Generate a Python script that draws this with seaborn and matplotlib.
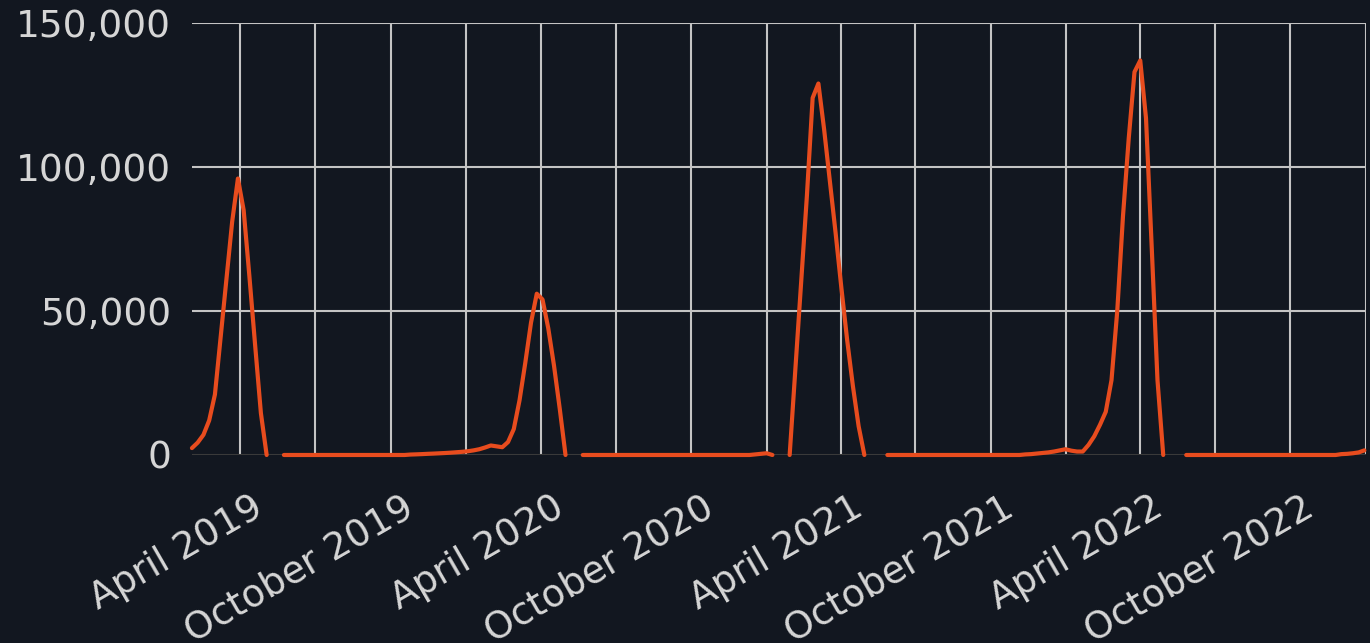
import numpy as np
import pandas as pd
import matplotlib
matplotlib.use("Agg")
import matplotlib.pyplot as plt
import matplotlib.dates as mdates
from matplotlib.ticker import FuncFormatter
from matplotlib.transforms import ScaledTranslation
import seaborn as sns

nan = np.nan

# weekly counts (one value per Friday)
counts_2019 = [2400, 4300, 7000, 12000, 21000, 41000, 61000, 81000, 96000, 85000,
               62000, 38000, 14500, 0, nan, nan, 0,
               0, 0, 0, 0, 0, 0, 0, 0, 0, 0, 0, 0, 0, 0, 0, 0, 0, 0, 0, 0, 0,
               150, 220, 300, 400, 480, 580, 680, 800, 950, 1100]
counts_2020 = [1300, 1600, 2000, 2600, 3300, 3000, 2700, 4500, 9000, 19000,
               32000, 46000, 56000, 54000, 44000, 31000, 16000, 0, nan, nan, 0,
               0, 0, 0, 0, 0, 0, 0, 0, 0, 0, 0, 0, 0, 0, 0, 0, 0, 0, 0, 0, 0,
               0, 0, 0, 0, 0, 0, 0, 0,
               200, 400]
counts_2021 = [600, 0, nan, nan, 0, 30000, 60000, 90000, 124000, 129000,
               113000, 95000, 77000, 58000, 40000, 24000, 10000, 0, nan, nan, nan, 0,
               0, 0, 0, 0, 0, 0, 0, 0, 0, 0, 0, 0, 0, 0, 0, 0, 0, 0, 0, 0, 0, 0, 0,
               200, 300, 500, 700, 900, 1200, 1600, 2000]
counts_2022 = [1500, 1200, 1200, 3500, 6500, 10500, 15000, 26000, 50000, 83000,
               110000, 133000, 137000, 117000, 72000, 26000, 0, nan, nan, nan, 0,
               0, 0, 0, 0, 0, 0, 0, 0, 0, 0, 0, 0, 0, 0, 0, 0, 0, 0, 0, 0, 0,
               0, 0, 0, 0, 0,
               300, 400, 600, 900, 1600]

weeks = pd.date_range("2019-02-01", "2022-12-30", freq="7D")
counts = counts_2019 + counts_2020 + counts_2021 + counts_2022

df = pd.DataFrame({"week": weeks, "count": counts})
# missing weeks break the line, so give each unbroken stretch its own unit
df["run"] = df["count"].isna().cumsum()
df = df.dropna()

bg = "#121720"
sns.set_theme(style="darkgrid", rc={
    "figure.facecolor": bg,
    "axes.facecolor": bg,
    "grid.color": "#c4c4c4",
    "grid.linewidth": 1.5,
    "axes.edgecolor": bg,
})
plt.rcParams["font.family"] = ["DejaVu Sans"]

fig = plt.figure(figsize=(13.7, 6.43), dpi=100)
ax = fig.add_axes([0.1401, 0.2924, 0.8570, 0.6718])

sns.lineplot(data=df, x="week", y="count", units="run", estimator=None,
             color="#e84c1e", linewidth=3, ax=ax, clip_on=False, zorder=3)

ax.set_xlim(pd.Timestamp("2019-02-01"), pd.Timestamp("2023-01-01"))
ax.set_ylim(0, 150000)
ax.set_yticks([0, 50000, 100000, 150000])
ax.yaxis.set_major_formatter(FuncFormatter(lambda v, p: f"{v:,.0f}"))

ax.xaxis.set_major_locator(mdates.MonthLocator(bymonth=[4, 10]))
ax.xaxis.set_minor_locator(mdates.MonthLocator(bymonth=[1, 7]))
ax.xaxis.set_major_formatter(mdates.DateFormatter("%B %Y"))
ax.grid(True, which="both", axis="x")
ax.grid(True, which="major", axis="y")

ax.set_xlabel("")
ax.set_ylabel("")
for s in ax.spines.values():
    s.set_visible(False)

ax.tick_params(axis="both", which="both", length=0, labelcolor="#d6d6d6", labelsize=27)
ax.tick_params(axis="y", pad=15)
ax.tick_params(axis="x", pad=36)

fig.canvas.draw()
# zero line is drawn darker than the rest of the grid
ax.get_ygridlines()[0].set_color("#3a3a3a")
shift = ScaledTranslation(0.20, 0, fig.dpi_scale_trans)
for lbl in ax.get_xticklabels():
    lbl.set_rotation(30)
    lbl.set_ha("right")
    lbl.set_va("center")
    lbl.set_rotation_mode("anchor")
    lbl.set_transform(lbl.get_transform() + shift)

fig.savefig("out.png", dpi=100, facecolor=bg)
